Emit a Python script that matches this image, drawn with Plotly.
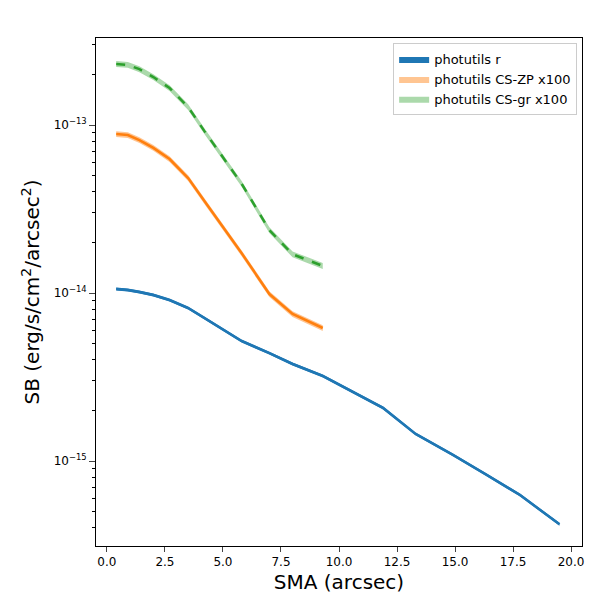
import plotly.graph_objects as go
import numpy as np

# data
sma_r = [0.4, 0.9, 1.4, 2.0, 2.7, 3.5, 4.2, 5.0, 5.8, 7.0, 8.0, 9.3, 10.5, 11.9, 13.3, 14.9, 16.3, 17.8, 19.5]
sb_r = [1.056, 1.042, 1.014, 0.973, 0.908, 0.814, 0.71, 0.61, 0.518, 0.439, 0.378, 0.321,
        0.261, 0.207, 0.145, 0.109, 0.0837, 0.0627, 0.042]
sb_r = [v * 1e-14 for v in sb_r]

sma_cs = [0.4, 0.9, 1.4, 2.0, 2.7, 3.5, 4.2, 5.0, 5.8, 7.0, 8.0, 9.3]
sb_zp = [8.84, 8.72, 8.13, 7.31, 6.27, 4.83, 3.53, 2.47, 1.73, 0.986, 0.75, 0.619]
sb_zp = [v * 1e-14 for v in sb_zp]
sb_gr = [2.31, 2.28, 2.15, 1.93, 1.66, 1.28, 0.92, 0.645, 0.448, 0.237, 0.17, 0.145]
sb_gr = [v * 1e-13 for v in sb_gr]

minor_vals = [m * 10.0 ** e for e in (-16, -15, -14, -13) for m in range(2, 10)]

fig = go.Figure()

def band(x, y, frac, fill, name):
    y = np.array(y)
    fig.add_trace(go.Scatter(x=x, y=y * (1 + frac), mode='lines', line=dict(width=0),
                             showlegend=False, hoverinfo='skip'))
    fig.add_trace(go.Scatter(x=x, y=y * (1 - frac), mode='lines', line=dict(width=0),
                             fill='tonexty', fillcolor=fill, name=name))

band(sma_r, sb_r, 0.02, 'rgba(31,119,180,1)', 'photutils r')
band(sma_cs, sb_zp, 0.04, 'rgba(255,127,14,0.45)', 'photutils CS-ZP x100')
band(sma_cs, sb_gr, 0.04, 'rgba(44,160,44,0.4)', 'photutils CS-gr x100')

fig.add_trace(go.Scatter(x=sma_r, y=sb_r, mode='lines', line=dict(color='#1f77b4', width=2.5), showlegend=False))
fig.add_trace(go.Scatter(x=sma_cs, y=sb_zp, mode='lines', line=dict(color='#ff7f0e', width=2.5), showlegend=False))
fig.add_trace(go.Scatter(x=sma_cs, y=sb_gr, mode='lines', line=dict(color='#2ca02c', width=2.5, dash='dash'), showlegend=False))

fig.update_layout(
    width=600, height=600, plot_bgcolor='white', paper_bgcolor='white',
    margin=dict(l=88, r=26, t=30, b=62),
    font=dict(family='DejaVu Sans', color='black', size=12),
    legend=dict(x=0.99, y=0.99, xanchor='right', yanchor='top', bordercolor='#ccc', borderwidth=1,
                font=dict(size=13), traceorder='normal'),
)
fig.update_xaxes(range=[-0.47, 20.47], tickvals=[0, 2.5, 5, 7.5, 10, 12.5, 15, 17.5, 20],
                 ticktext=['0.0', '2.5', '5.0', '7.5', '10.0', '12.5', '15.0', '17.5', '20.0'],
                 ticks='outside', showline=True, linecolor='black', mirror=True, showgrid=False,
                 zeroline=False, title=dict(text='SMA (arcsec)', font=dict(size=20), standoff=6))
fig.update_yaxes(type='log', range=[-15.506, -12.482], tickvals=[1e-15, 1e-14, 1e-13],
                 ticktext=['10<sup>−15</sup>', '10<sup>−14</sup>', '10<sup>−13</sup>'],
                 ticks='outside', ticklen=6, showline=True, linecolor='black', mirror=True, showgrid=False,
                 minor=dict(ticks='outside', ticklen=3, tickcolor='black', showgrid=False,
                            tickvals=minor_vals),
                 title=dict(text='SB (erg/s/cm<sup>2</sup>/arcsec<sup>2</sup>)', font=dict(size=20), standoff=8))

fig.write_html('out.html')
